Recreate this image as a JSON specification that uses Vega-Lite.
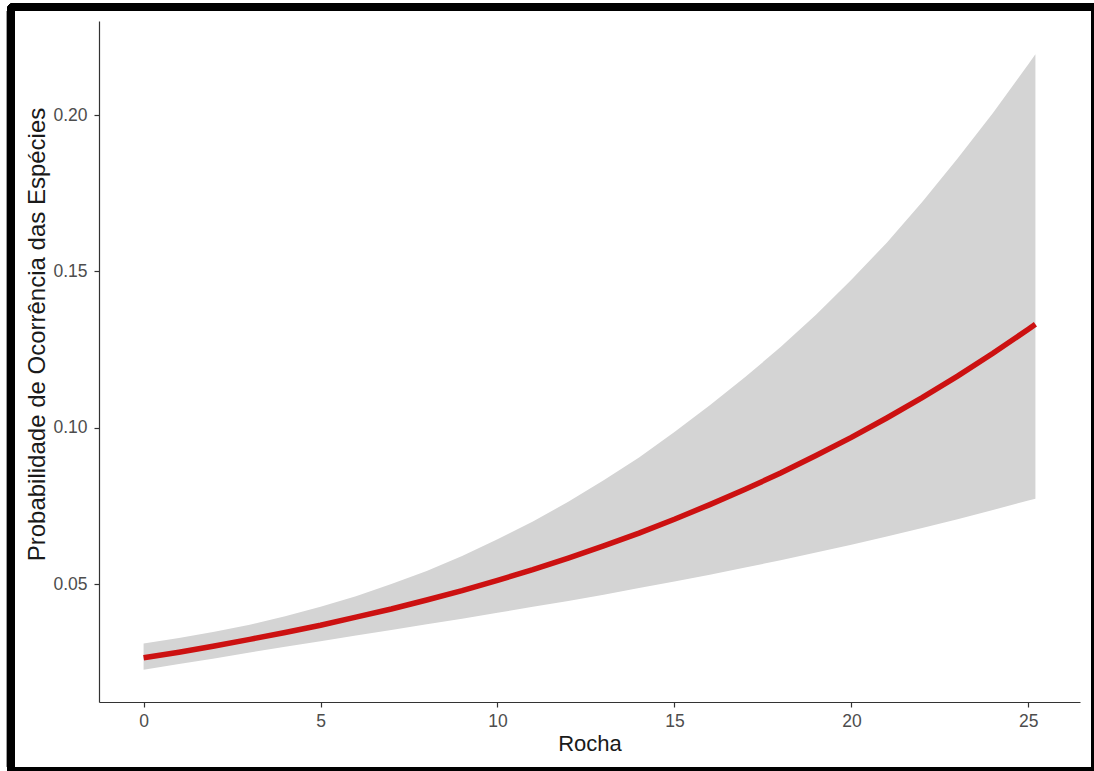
{
  "$schema": "https://vega.github.io/schema/vega-lite/v6.json",
  "width": 981,
  "height": 681,
  "autosize": {"type": "none"},
  "padding": {"left": 99, "top": 21, "right": 14, "bottom": 69},
  "background": "white",
  "config": {"view": {"stroke": null}, "font": "Liberation Sans"},
  "data": {
    "values": [
      {"rocha": 0, "prob": 0.0264, "lower": 0.0226, "upper": 0.0310},
      {"rocha": 1, "prob": 0.0282, "lower": 0.0244, "upper": 0.0327},
      {"rocha": 2, "prob": 0.0302, "lower": 0.0262, "upper": 0.0347},
      {"rocha": 3, "prob": 0.0323, "lower": 0.0281, "upper": 0.0370},
      {"rocha": 4, "prob": 0.0345, "lower": 0.0299, "upper": 0.0397},
      {"rocha": 5, "prob": 0.0368, "lower": 0.0317, "upper": 0.0427},
      {"rocha": 6, "prob": 0.0394, "lower": 0.0335, "upper": 0.0461},
      {"rocha": 7, "prob": 0.0420, "lower": 0.0353, "upper": 0.0500},
      {"rocha": 8, "prob": 0.0449, "lower": 0.0371, "upper": 0.0542},
      {"rocha": 9, "prob": 0.0479, "lower": 0.0389, "upper": 0.0590},
      {"rocha": 10, "prob": 0.0512, "lower": 0.0408, "upper": 0.0643},
      {"rocha": 11, "prob": 0.0546, "lower": 0.0427, "upper": 0.0700},
      {"rocha": 12, "prob": 0.0583, "lower": 0.0446, "upper": 0.0763},
      {"rocha": 13, "prob": 0.0622, "lower": 0.0466, "upper": 0.0832},
      {"rocha": 14, "prob": 0.0663, "lower": 0.0487, "upper": 0.0905},
      {"rocha": 15, "prob": 0.0707, "lower": 0.0508, "upper": 0.0986},
      {"rocha": 16, "prob": 0.0754, "lower": 0.0530, "upper": 0.1072},
      {"rocha": 17, "prob": 0.0803, "lower": 0.0553, "upper": 0.1162},
      {"rocha": 18, "prob": 0.0855, "lower": 0.0576, "upper": 0.1258},
      {"rocha": 19, "prob": 0.0911, "lower": 0.0601, "upper": 0.1361},
      {"rocha": 20, "prob": 0.0969, "lower": 0.0626, "upper": 0.1473},
      {"rocha": 21, "prob": 0.1031, "lower": 0.0652, "upper": 0.1592},
      {"rocha": 22, "prob": 0.1096, "lower": 0.0679, "upper": 0.1722},
      {"rocha": 23, "prob": 0.1165, "lower": 0.0707, "upper": 0.1861},
      {"rocha": 24, "prob": 0.1238, "lower": 0.0737, "upper": 0.2007},
      {"rocha": 25, "prob": 0.1315, "lower": 0.0767, "upper": 0.2163},
      {"rocha": 25.2, "prob": 0.1331, "lower": 0.0773, "upper": 0.2195}
    ]
  },
  "layer": [
    {
      "mark": {"type": "area", "color": "#D4D4D4", "opacity": 1},
      "encoding": {
        "x": {
          "field": "rocha", "type": "quantitative", "title": "Rocha",
          "scale": {"domain": [-1.26, 26.46], "nice": false, "zero": false},
          "axis": {
            "title": "Rocha",
            "values": [0, 5, 10, 15, 20, 25], "format": "d", "grid": false,
            "domainColor": "#333333", "domainWidth": 1.2,
            "tickColor": "#333333", "tickWidth": 1.2, "tickSize": 5,
            "labelColor": "#4D4D4D", "labelFontSize": 17.5, "labelPadding": 5,
            "titleFontSize": 22, "titleFontWeight": "normal", "titleColor": "#1A1A1A", "titlePadding": 4
          }
        },
        "y": {
          "field": "lower", "type": "quantitative", "title": "Probabilidade de Ocorrência das Espécies",
          "scale": {"domain": [0.01226, 0.2301], "nice": false, "zero": false},
          "axis": {
            "title": "Probabilidade de Ocorrência das Espécies",
            "values": [0.05, 0.1, 0.15, 0.2], "format": ".2f", "grid": false,
            "domainColor": "#333333", "domainWidth": 1.2,
            "tickColor": "#333333", "tickWidth": 1.2, "tickSize": 5,
            "labelColor": "#4D4D4D", "labelFontSize": 17.5, "labelPadding": 7,
            "titleFontSize": 24, "titleFontWeight": "normal", "titleColor": "#1A1A1A", "titlePadding": 3,
            "titleY": 313
          }
        },
        "y2": {"field": "upper"}
      }
    },
    {
      "mark": {"type": "line", "color": "#CC1111", "strokeWidth": 5.5},
      "encoding": {
        "x": {"field": "rocha", "type": "quantitative", "title": "Rocha"},
        "y": {"field": "prob", "type": "quantitative", "title": "Probabilidade de Ocorrência das Espécies"}
      }
    },
    {
      "mark": {"type": "rect", "fill": null, "stroke": "black", "strokeWidth": 8, "cornerRadius": 3},
      "encoding": {
        "x": {"datum": -3.747},
        "x2": {"datum": 26.884},
        "y": {"datum": 0.23458},
        "y2": {"datum": -0.00981}
      }
    }
  ]
}
